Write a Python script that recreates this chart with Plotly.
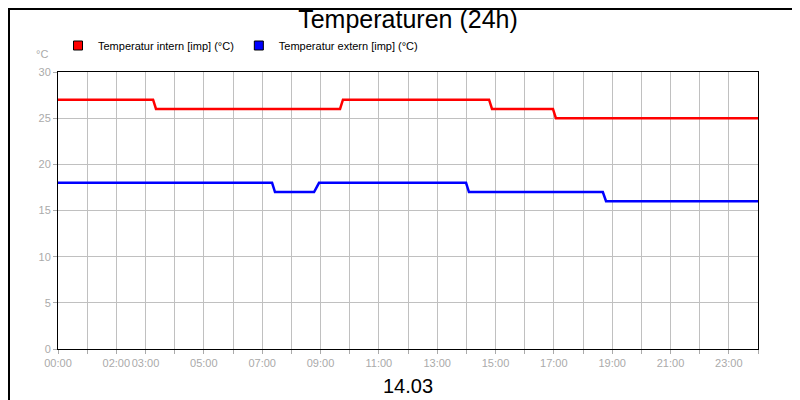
import plotly.graph_objects as go

# hours of day (0-24) and temperatures
intern_hours = [0, 3.26, 3.36, 9.67, 9.77, 14.78, 14.88, 16.97, 17.07, 24]
intern_temp = [27, 27, 26, 26, 27, 27, 26, 26, 25, 25]
extern_hours = [0, 7.34, 7.44, 8.78, 8.95, 13.99, 14.09, 18.68, 18.79, 24]
extern_temp = [18, 18, 17, 17, 18, 18, 17, 17, 16, 16]

tick_hours = [0, 2, 3, 5, 7, 9, 11, 13, 15, 17, 19, 21, 23]
tick_labels = [f"{h:02d}:00" for h in tick_hours]

series = [
    ("Temperatur intern [imp] (°C)", intern_hours, intern_temp, "#ff0000"),
    ("Temperatur extern [imp] (°C)", extern_hours, extern_temp, "#0000ff"),
]

fig = go.Figure()
for name, xs, ys, color in series:
    fig.add_trace(go.Scatter(x=xs, y=ys, mode="lines", showlegend=False,
                             line=dict(color=color, width=2.5)))
    # legend entry with a square swatch
    fig.add_trace(go.Scatter(x=[None], y=[None], mode="markers", name=name,
                             marker=dict(symbol="square", size=9, color=color,
                                         line=dict(color="black", width=1))))

pw, ph = 700, 277
fig.update_layout(
    width=800, height=400,
    paper_bgcolor="white", plot_bgcolor="white",
    margin=dict(l=50, r=50, t=64, b=59, autoexpand=False),
    font=dict(family="Liberation Sans", size=11, color="black"),
    title=dict(text="Temperaturen (24h)", x=0.5, xanchor="center", y=0.995, yanchor="top",
               font=dict(size=25, family="Liberation Sans")),
    legend=dict(orientation="h", x=0.0, y=1.0 + 12 / ph, xanchor="left", yanchor="bottom",
                font=dict(size=11), bgcolor="rgba(0,0,0,0)", itemwidth=30,
                tracegroupgap=0),
    shapes=[dict(type="rect", xref="paper", yref="paper", x0=-49 / pw, x1=1 + 49 / pw,
                 y0=-58 / ph, y1=1 + 63 / ph, line=dict(color="black", width=2))],
    annotations=[
        dict(text="°C", xref="paper", yref="paper", x=-8 / pw, y=1 + 10 / ph, xanchor="right",
             yanchor="bottom", showarrow=False, font=dict(size=11, color="#aaaaaa")),
        dict(text="14.03", xref="paper", yref="paper", x=0.5, y=-24 / ph, xanchor="center",
             yanchor="top", showarrow=False, font=dict(size=20, family="Liberation Sans")),
    ],
)
fig.update_xaxes(range=[0, 24], tickvals=tick_hours, ticktext=tick_labels, tickangle=0,
                 automargin=False, showgrid=False, ticks="outside", ticklen=4,
                 tickcolor="#aaaaaa", tickfont=dict(color="#aaaaaa", size=11),
                 minor=dict(dtick=1, showgrid=True, gridcolor="#c0c0c0", ticks="outside",
                            ticklen=4, tickcolor="#aaaaaa"),
                 showline=True, linecolor="black", linewidth=1, mirror=True, zeroline=False)
fig.update_yaxes(range=[0, 30], dtick=5, showgrid=True, gridcolor="#c0c0c0",
                 automargin=False, ticks="outside", ticklen=4, tickcolor="#aaaaaa",
                 tickfont=dict(color="#aaaaaa", size=11),
                 showline=True, linecolor="black", linewidth=1, mirror=True, zeroline=False)

fig.write_html("out.html")
